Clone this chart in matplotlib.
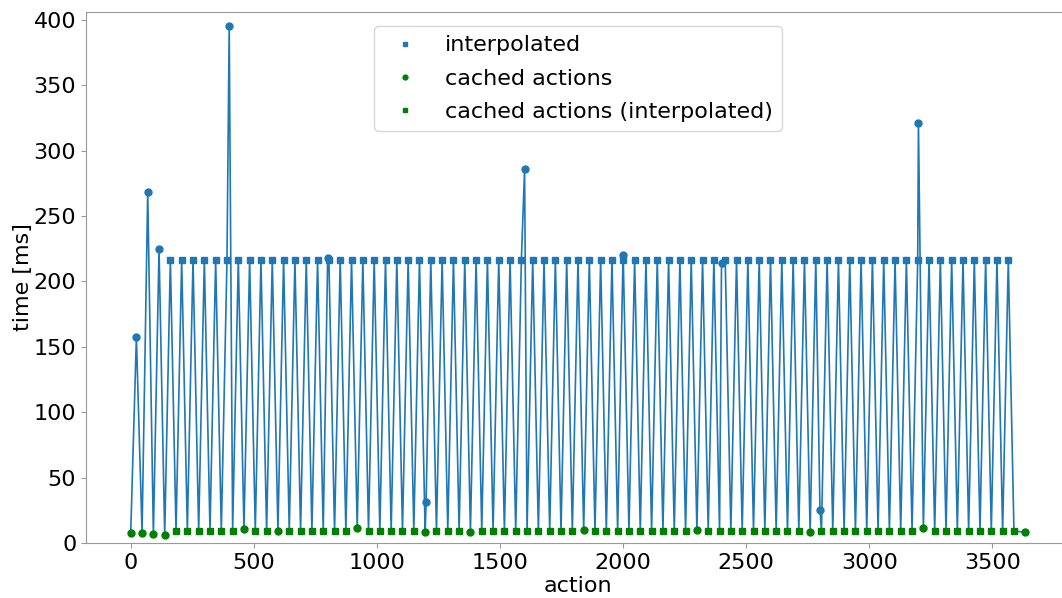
import numpy as np
from matplotlib import pyplot as plt

# measured (non-cached) actions, blue circles
meas_x = [23, 69, 115, 400, 800, 1200, 1600, 2000, 2400, 2800, 3200]
meas_y = [157.6, 268.5, 224.9, 395.4, 217.7, 31.6, 286.0, 220.0, 214.0, 25.2, 321.5]

# interpolated actions, blue squares (all sit at the same level)
interp_x = [161, 207, 253, 299, 345, 391, 437, 483, 529, 575, 621, 667, 713, 759,
            805, 851, 897, 943, 989, 1035, 1081, 1127, 1173, 1219, 1265, 1311, 1357,
            1403, 1449, 1495, 1541, 1587, 1633, 1679, 1725, 1771, 1817, 1863, 1909,
            1955, 2001, 2047, 2093, 2139, 2185, 2231, 2277, 2323, 2369, 2415, 2461,
            2507, 2553, 2599, 2645, 2691, 2737, 2783, 2829, 2875, 2921, 2967, 3013,
            3059, 3105, 3151, 3197, 3243, 3289, 3335, 3381, 3427, 3473, 3519, 3565]
interp_level = 216.5

# cached actions, green circles
cached_x = [0, 46, 92, 138, 460, 598, 920, 1196, 1380, 1840, 2300, 2760, 3220, 3634]
cached_y = [8.0, 7.9, 6.6, 5.9, 10.7, 9.4, 11.7, 8.2, 8.7, 9.7, 9.7, 8.2, 11.2, 8.2]

# cached actions (interpolated), green squares
cached_interp_x = [184, 230, 276, 322, 368, 414, 506, 552, 644, 690, 736, 782, 828, 874,
                   966, 1012, 1058, 1104, 1150, 1242, 1288, 1334, 1426, 1472, 1518, 1564,
                   1610, 1656, 1702, 1748, 1794, 1886, 1932, 1978, 2024, 2070, 2116, 2162,
                   2208, 2254, 2346, 2392, 2438, 2484, 2530, 2576, 2622, 2668, 2714, 2806,
                   2852, 2898, 2944, 2990, 3036, 3082, 3128, 3174, 3266, 3312, 3358, 3404,
                   3450, 3496, 3542, 3588]
cached_interp_level = 9.2

interp_y = [interp_level] * len(interp_x)
cached_interp_y = [cached_interp_level] * len(cached_interp_x)

# one line through every action in order
all_x = np.array(meas_x + interp_x + cached_x + cached_interp_x, dtype=float)
all_y = np.array(meas_y + interp_y + cached_y + cached_interp_y)
order = np.argsort(all_x, kind='stable')

plt.rcParams['font.size'] = 16
fig = plt.figure(figsize=(10.62, 5.98), dpi=100)
ax = fig.add_axes([86 / 1062, 55 / 598, 984 / 1062, 531 / 598])

ax.plot(all_x[order], all_y[order], color='#1f77b4', lw=1.2, zorder=1)
ax.plot(meas_x, meas_y, 'o', color='#1f77b4', ms=5, zorder=2)
ax.plot(interp_x, interp_y, 's', color='#1f77b4', ms=4.5, label='interpolated', zorder=2)
ax.plot(cached_x, cached_y, 'o', color='green', ms=5, label='cached actions', zorder=3)
ax.plot(cached_interp_x, cached_interp_y, 's', color='green', ms=4.5,
        label='cached actions (interpolated)', zorder=3)

ax.set_ylim(0, 406)
ax.set_xlabel('action', labelpad=2)
ax.set_ylabel('time [ms]', labelpad=0.5)
for s in ax.spines.values():
    s.set_color('#999999')
ax.tick_params(colors='#999999', labelcolor='black')
ax.legend(loc='upper center', markerscale=0.7, labelspacing=0.6, borderaxespad=0.65)

plt.savefig('out.png', dpi=100)
